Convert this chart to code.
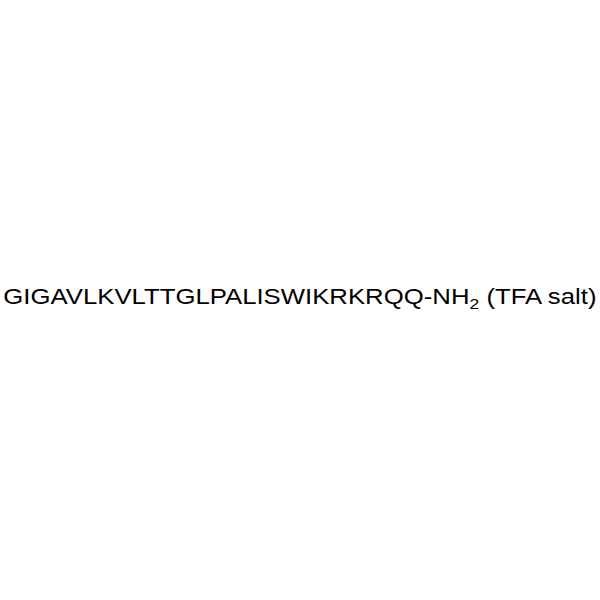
import React from "react";

const peptide = "GIGAVLKVLTTGLPALISWIKRKRQQ-NH";
const subscript = "2";
const suffix = " (TFA salt)";

export default function App() {
  return (
    <svg
      width={600}
      height={600}
      style={{ position: "absolute", left: 0, top: 0, background: "#fff" }}
    >
      <rect width={600} height={600} fill="#fff" />
      <text
        x={0}
        y={0}
        transform="translate(3.3,304) scale(1.17,1)"
        textAnchor="start"
        fontFamily="'Liberation Sans', Arial, sans-serif"
        fontSize={22}
        fill="#000"
      >
        <tspan>{peptide}</tspan>
        <tspan fontSize={15} dy={5}>{subscript}</tspan>
        <tspan dy={-5}>{suffix}</tspan>
      </text>
    </svg>
  );
}
